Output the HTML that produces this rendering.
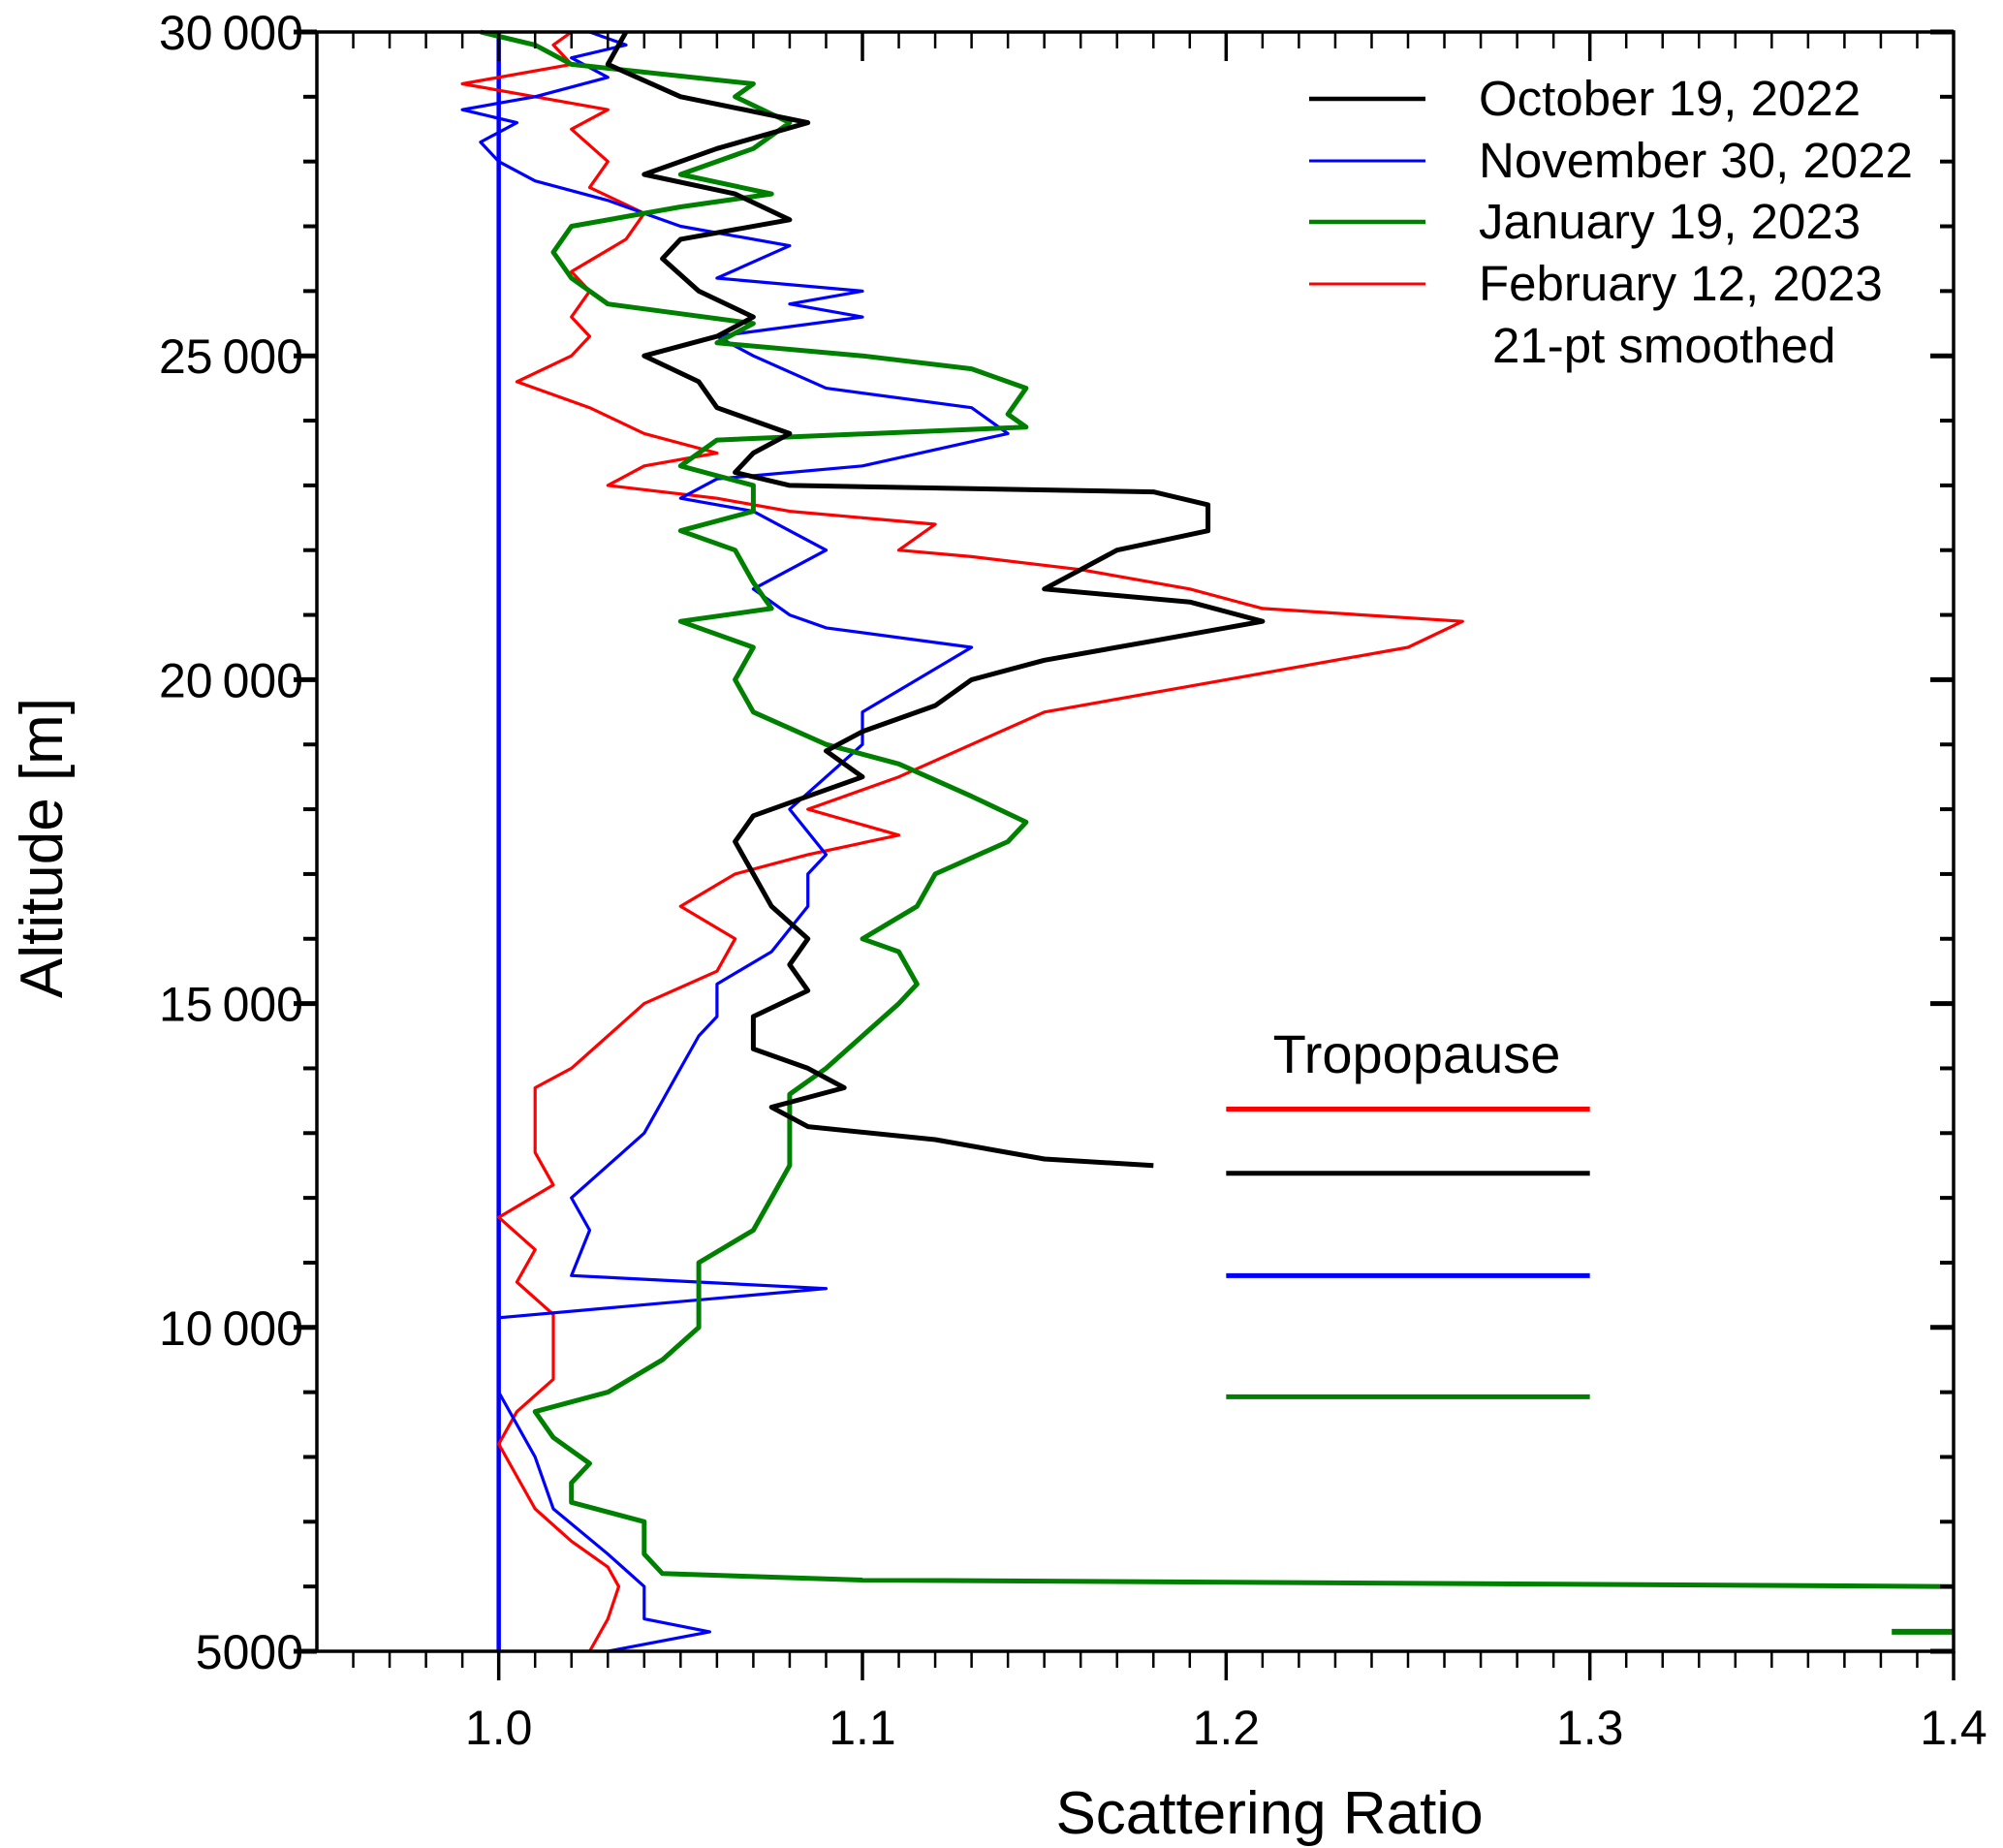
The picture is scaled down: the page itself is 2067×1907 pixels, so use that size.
<!DOCTYPE html>
<html><head><meta charset="utf-8"><style>
html,body{margin:0;padding:0;background:#fff;}
svg{display:block;font-family:"Liberation Sans",Arial,sans-serif;}
</style></head><body>
<svg id="chart" width="2067" height="1907" viewBox="0 0 2067 1907" xmlns="http://www.w3.org/2000/svg">
<g id="plot"></g>
<g id="axes"></g>
<text x="0" y="0" transform="translate(64,875) rotate(-90)" text-anchor="middle" font-size="62">Altitude [m]</text>
<text x="1310" y="1892" text-anchor="middle" font-size="62">Scattering Ratio</text>
<g font-size="51">
<line x1="1351" y1="102" x2="1471" y2="102" stroke="#000" stroke-width="4.5"/>
<text x="1526" y="119">October 19, 2022</text>
<line x1="1351" y1="166" x2="1471" y2="166" stroke="#0000ff" stroke-width="3"/>
<text x="1526" y="183">November 30, 2022</text>
<line x1="1351" y1="229" x2="1471" y2="229" stroke="#008000" stroke-width="4.5"/>
<text x="1526" y="246">January 19, 2023</text>
<line x1="1351" y1="293" x2="1471" y2="293" stroke="#ff0000" stroke-width="3"/>
<text x="1526" y="310">February 12, 2023</text>
<text x="1540" y="374">21-pt smoothed</text>
</g>
<text x="1462" y="1107" text-anchor="middle" font-size="56">Tropopause</text>
</svg>
<script>
const xMin=0.95,xMax=1.4,yMin=5000,yMax=30000;
const L=327,R=2016,T=33,B=1704;
function sx(v){return L+(v-xMin)/(xMax-xMin)*(R-L);}
function sy(v){return B-(v-yMin)/(yMax-yMin)*(B-T);}

const octAlt=[30000,29500,29000,28600,28200,27800,27500,27100,26800,26500,26000,25600,25300,25000,24600,24200,23800,23500,23200,23000,22900,22700,22300,22000,21700,21400,21200,20900,20600,20300,20000,19600,19200,18900,18500,18200,17900,17500,17000,16500,16000,15600,15200,14800,14300,14000,13700,13400,13100,12900,12600,12500];
const octVal=[1.035,1.03,1.05,1.085,1.06,1.04,1.065,1.08,1.05,1.045,1.055,1.07,1.06,1.04,1.055,1.06,1.08,1.07,1.065,1.08,1.18,1.195,1.195,1.17,1.16,1.15,1.19,1.21,1.18,1.15,1.13,1.12,1.1,1.09,1.1,1.085,1.07,1.065,1.07,1.075,1.085,1.08,1.085,1.07,1.07,1.085,1.095,1.075,1.085,1.12,1.15,1.18];

const novAlt=[5000,5300,5500,6000,6500,7200,8000,9000,10000,10150,10600,10800,11500,12000,12500,13000,13500,14000,14500,14800,15300,15800,16500,17000,17300,18000,18500,19000,19500,20500,20800,21000,21400,22000,22300,22600,22800,23100,23300,23800,24200,24500,25000,25300,25600,25800,26000,26200,26700,27000,27400,27700,28000,28300,28600,28800,29000,29300,29600,29800,30000];
const novVal=[1.03,1.058,1.04,1.04,1.03,1.015,1.01,1.0,1.0,1.0,1.09,1.02,1.025,1.02,1.03,1.04,1.045,1.05,1.055,1.06,1.06,1.075,1.085,1.085,1.09,1.08,1.09,1.1,1.1,1.13,1.09,1.08,1.07,1.09,1.08,1.07,1.05,1.06,1.1,1.14,1.13,1.09,1.07,1.06,1.1,1.08,1.1,1.06,1.08,1.05,1.03,1.01,1.0,0.995,1.005,0.99,1.01,1.03,1.02,1.035,1.025];

const janAlt=[6000,6100,6200,6500,7000,7300,7600,7900,8300,8700,9000,9500,10000,10500,11000,11500,12000,12500,13000,13600,14000,14500,15000,15300,15800,16000,16500,17000,17500,17800,18200,18700,19000,19500,20000,20500,20900,21100,21500,22000,22300,22600,23000,23300,23700,23900,24100,24500,24800,25000,25200,25500,25800,26200,26600,27000,27300,27500,27800,28200,28600,29000,29200,29500,29800,30000];
const janVal=[1.4,1.1,1.045,1.04,1.04,1.02,1.02,1.025,1.015,1.01,1.03,1.045,1.055,1.055,1.055,1.07,1.075,1.08,1.08,1.08,1.09,1.1,1.11,1.115,1.11,1.1,1.115,1.12,1.14,1.145,1.13,1.11,1.09,1.07,1.065,1.07,1.05,1.075,1.07,1.065,1.05,1.07,1.07,1.05,1.06,1.145,1.14,1.145,1.13,1.1,1.06,1.07,1.03,1.02,1.015,1.02,1.05,1.075,1.05,1.07,1.08,1.065,1.07,1.02,1.01,0.995];
const janLowAlt=[5300,5300];
const janLowVal=[1.383,1.4];

const febAlt=[5000,5500,6000,6300,6700,7200,7700,8200,8700,9200,9800,10200,10700,11200,11700,12200,12700,13200,13700,14000,14500,15000,15500,16000,16500,17000,17300,17600,18000,18500,19000,19500,20000,20500,20900,21100,21400,21700,21900,22000,22400,22600,22800,23000,23300,23500,23800,24200,24600,25000,25300,25600,26000,26300,26800,27200,27600,28000,28500,28800,29200,29500,29800,30000];
const febVal=[1.025,1.03,1.033,1.03,1.02,1.01,1.005,1.0,1.005,1.015,1.015,1.015,1.005,1.01,1.0,1.015,1.01,1.01,1.01,1.02,1.03,1.04,1.06,1.065,1.05,1.065,1.085,1.11,1.085,1.11,1.13,1.15,1.2,1.25,1.265,1.21,1.19,1.16,1.13,1.11,1.12,1.08,1.06,1.03,1.04,1.06,1.04,1.025,1.005,1.02,1.025,1.02,1.025,1.02,1.035,1.04,1.025,1.03,1.02,1.03,0.99,1.02,1.015,1.02];

const tropoAlt=[13370,12380,10800,8930];
const tropoColors=['#ff0000','#000000','#0000ff','#008000'];
const tropoNames=['tropopause-feb','tropopause-oct','tropopause-nov','tropopause-jan'];

const xTickVals=[1.0,1.1,1.2,1.3,1.4];
const xTickLabels=['1.0','1.1','1.2','1.3','1.4'];
const yTickVals=[5000,10000,15000,20000,25000,30000];
const yTickLabels=['5000','10\u2009000','15\u2009000','20\u2009000','25\u2009000','30\u2009000'];

const NS='http://www.w3.org/2000/svg';
const plot=document.getElementById('plot');
const axes=document.getElementById('axes');
function mk(tag,parent){const e=document.createElementNS(NS,tag);parent.appendChild(e);return e;}

const ref=mk('line',plot);


ref.setAttribute('x1',sx(1.0));ref.setAttribute('x2',sx(1.0));ref.setAttribute('y1',T);ref.setAttribute('y2',B);
ref.setAttribute('stroke','#0000ff');ref.setAttribute('stroke-width','4.5');

function series(alt,val,color,w,name){
  const p=mk('polyline',plot);
  
  
  p.setAttribute('points',alt.map((a,i)=>sx(val[i]).toFixed(1)+','+sy(a).toFixed(1)).join(' '));
  p.setAttribute('fill','none');p.setAttribute('stroke',color);p.setAttribute('stroke-width',w);
  p.setAttribute('stroke-linejoin','round');
}
series(febAlt,febVal,'#ff0000',3.2,'series-feb-12-2023');
series(novAlt,novVal,'#0000ff',3.2,'series-nov-30-2022');
series(janAlt,janVal,'#008000',5,'series-jan-19-2023');
series(janLowAlt,janLowVal,'#008000',6,'series-jan-19-2023-low');
series(octAlt,octVal,'#000000',5,'series-oct-19-2022');

tropoAlt.forEach((a,i)=>{
  const l=mk('line',plot);
  
  
  l.setAttribute('x1',sx(1.2));l.setAttribute('x2',sx(1.3));
  l.setAttribute('y1',sy(a));l.setAttribute('y2',sy(a));
  l.setAttribute('stroke',tropoColors[i]);l.setAttribute('stroke-width','5');
});

const fr=mk('rect',axes);


fr.setAttribute('x',L);fr.setAttribute('y',T);fr.setAttribute('width',R-L);fr.setAttribute('height',B-T);
fr.setAttribute('fill','none');fr.setAttribute('stroke','#000');fr.setAttribute('stroke-width','3.5');

function tick(x1,y1,x2,y2,w,name){
  const t=mk('line',axes);
  
  
  t.setAttribute('x1',x1);t.setAttribute('y1',y1);t.setAttribute('x2',x2);t.setAttribute('y2',y2);
  t.setAttribute('stroke','#000');t.setAttribute('stroke-width',w);
}
for(let k=96;k<=140;k++){
  const v=k/100,x=sx(v),major=(k%10===0);
  tick(x,B,x,B+(major?30:17),major?3.5:2.5,'x-tick');
  if(k<140) tick(x,T,x,T+(major?30:17),major?3.5:2.5,'x-tick-top');
}
for(let a=5000;a<=30000;a+=1000){
  const y=sy(a),major=(a%5000===0);
  tick(L,y,L-(major?24:14),y,major?5:4,'y-tick');
  tick(R,y,R-(major?24:14),y,major?5:4,'y-tick-right');
}
xTickVals.forEach((v,i)=>{
  const t=mk('text',axes);
  
  
  t.setAttribute('x',sx(v));t.setAttribute('y',1800);t.setAttribute('text-anchor','middle');t.setAttribute('font-size','50');
  t.textContent=xTickLabels[i];
});
yTickVals.forEach((v,i)=>{
  const t=mk('text',axes);
  
  
  t.setAttribute('x',L-14);t.setAttribute('y',sy(v)+18);t.setAttribute('text-anchor','end');t.setAttribute('font-size','50');
  t.textContent=yTickLabels[i];
});
</script>
</body></html>
